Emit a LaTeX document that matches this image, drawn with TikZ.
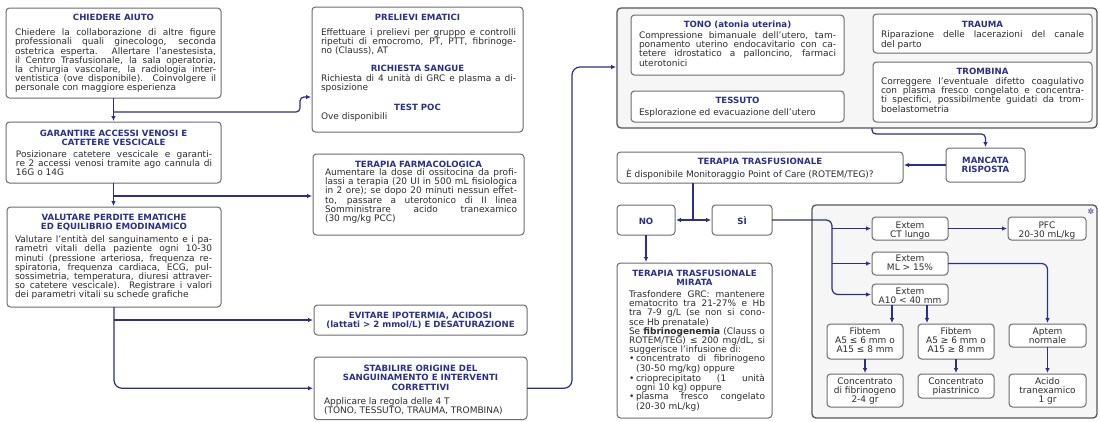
\documentclass[tikz,border=0pt]{standalone}
\usepackage{fontspec}
\setmainfont{DejaVu Sans}
\usetikzlibrary{arrows.meta}

\definecolor{navy}{RGB}{43,47,140}
\definecolor{ink}{RGB}{45,45,45}
\definecolor{frame}{RGB}{108,108,108}
\definecolor{panelfill}{RGB}{246,246,246}

% line helpers: struts keep every row at the same height
\newlength\jw
\newcommand\bst{\vrule height 6.9pt depth 2.3pt width 0pt}
\newcommand\tst{\vrule height 6.9pt depth 2.6pt width 0pt}
\newcommand\jlin[1]{\hbox to\jw{\bst#1}}   % justified line
\newcommand\rlin[1]{\hbox{\bst#1}}         % ragged line
\newcommand\tlin[1]{\hbox{\tst#1}}         % heading line
\newcommand\blt{\makebox[7pt][l]{•}}

% box from its top-left and bottom-right corners (pixel units)
\newcommand\mkbox[6][cardbox]{%
  \node[#1, minimum width=#5pt-#3pt, minimum height=#6pt-#4pt] (#2)
    at ({(#3+#5)/2},{(#4+#6)/2}) {};}

\begin{document}
\begin{tikzpicture}[x=1pt,y=-1pt,
  cardbox/.style={draw=frame, line width=1pt, rounded corners=3.5pt, fill=white,
    inner sep=0pt, outer sep=0pt},
  panelbox/.style={draw=frame!80!black, line width=1.3pt, rounded corners=4pt,
    fill=panelfill, inner sep=0pt, outer sep=0pt},
  body/.style={font=\fontsize{9}{9.2}\selectfont, text=ink, align=left,
    inner sep=0pt, outer sep=0pt, anchor=north west},
  ttl/.style={font=\bfseries\fontsize{8.6}{9.5}\selectfont, text=navy, align=center,
    inner sep=0pt, outer sep=0pt, anchor=north},
  small/.style={font=\fontsize{9}{9.2}\selectfont, text=ink, align=center,
    inner sep=0pt, outer sep=0pt, anchor=north},
  conn/.style={draw=navy, line width=1.2pt},
  arr/.style={conn, -{Latex[length=5pt,width=4.6pt]}, shorten >=1pt}]

\fill[white] (0,0) rectangle (1100,421);
\useasboundingbox (0,0) rectangle (1100,421);

% ---------- grouping panels ----------
\mkbox[panelbox]{c1}{617}{8}{1097}{128}
\mkbox[panelbox]{c2}{812}{205}{1097}{418}
\node[text=navy, font=\fontsize{8}{8}\selectfont, inner sep=0pt] (star) at (1091,212) {✲};

% ---------- boxes ----------
\mkbox{b1}{6}{8}{221}{98}
\mkbox{b2}{6}{122}{221}{183}
\mkbox{b3}{7}{207}{221}{307}
\mkbox{b4}{312}{7}{523}{132}
\mkbox{b5}{313}{154}{524}{235}
\mkbox{b6}{314}{305}{527}{335}
\mkbox{b7}{314}{357}{527}{419.5}
\mkbox{b8}{631}{15}{844}{75}
\mkbox{b9}{631}{91}{844}{122}
\mkbox{b10}{873}{14}{1092}{53}
\mkbox{b11}{873}{62}{1092}{122}
\mkbox{b12}{946}{148}{1025}{182}
\mkbox{b13}{617}{152}{903}{183}
\mkbox{b14}{617}{205}{675}{235}
\mkbox{b15}{712}{205}{772}{235}
\mkbox{b16}{617}{263}{772}{418}
\mkbox{e1}{872}{217}{948}{240}
\mkbox{pf}{1008}{217}{1086}{240}
\mkbox{e2}{872}{252}{948}{275}
\mkbox{e3}{872}{284}{948}{305}
\mkbox{f1}{827}{324}{903}{359}
\mkbox{f2}{918}{324}{994}{359}
\mkbox{ap}{1009}{324}{1086}{347}
\mkbox{cf}{827}{374}{903}{407}
\mkbox{cp}{918}{374}{994}{398}
\mkbox{ac}{1009}{374}{1086}{407}

% ---------- left column ----------
\node[ttl] (b1t) at (113.5,13.2) {\tlin{CHIEDERE AIUTO}};
\node[body] (b1b) at (15,28.8) {\global\jw=201pt
  \jlin{Chiedere la collaborazione di altre figure}\\
  \jlin{professionali quali ginecologo, seconda}\\
  \jlin{ostetrica esperta. Allertare l’anestesista,}\\
  \jlin{il Centro Trasfusionale, la sala operatoria,}\\
  \jlin{la chirurgia vascolare, la radiologia inter-}\\
  \jlin{ventistica (ove disponibile). Coinvolgere il}\\
  \rlin{personale con maggiore esperienza}};

\node[ttl] (b2t) at (113.5,129.2) {\tlin{GARANTIRE ACCESSI VENOSI E}\\\tlin{CATETERE VESCICALE}};
\node[body] (b2b) at (16,150.5) {\global\jw=196pt
  \jlin{Posizionare catetere vescicale e garanti-}\\
  \jlin{re 2 accessi venosi tramite ago cannula di}\\
  \rlin{16G o 14G}};

\node[ttl] (b3t) at (114,213.2) {\tlin{VALUTARE PERDITE EMATICHE}\\\tlin{ED EQUILIBRIO EMODINAMICO}};
\node[body] (b3b) at (15,235.5) {\global\jw=197pt
  \jlin{Valutare l’entità del sanguinamento e i pa-}\\
  \jlin{rametri vitali della paziente ogni 10-30}\\
  \jlin{minuti (pressione arteriosa, frequenza re-}\\
  \jlin{spiratoria, frequenza cardiaca, ECG, pul-}\\
  \jlin{sossimetria, temperatura, diuresi attraver-}\\
  \jlin{so catetere vescicale). Registrare i valori}\\
  \rlin{dei parametri vitali su schede grafiche}};

% ---------- middle column ----------
\node[ttl] (b4t1) at (417.5,13.2) {\tlin{PRELIEVI EMATICI}};
\node[body] (b4b1) at (321,28.5) {\global\jw=195pt
  \jlin{Effettuare i prelievi per gruppo e controlli}\\
  \jlin{ripetuti di emocromo, PT, PTT, fibrinoge-}\\
  \rlin{no (Clauss), AT}};
\node[ttl] (b4t2) at (417.5,64.2) {\tlin{RICHIESTA SANGUE}};
\node[body] (b4b2) at (321,74.5) {\global\jw=195pt
  \jlin{Richiesta di 4 unità di GRC e plasma a di-}\\
  \rlin{sposizione}};
\node[ttl] (b4t3) at (417.5,103.2) {\tlin{TEST POC}};
\node[body] (b4b3) at (321,112.5) {\rlin{Ove disponibili}};

\node[ttl] (b5t) at (418.5,160.2) {\tlin{TERAPIA FARMACOLOGICA}};
\node[body] (b5b) at (325,168.5) {\global\jw=192pt
  \jlin{Aumentare la dose di ossitocina da profi-}\\
  \jlin{lassi a terapia (20 UI in 500 mL fisiologica}\\
  \jlin{in 2 ore); se dopo 20 minuti nessun effet-}\\
  \jlin{to, passare a uterotonico di II linea}\\
  \jlin{Somministrare acido tranexamico}\\
  \rlin{(30 mg/kg PCC)}};

\node[ttl] (b6t) at (420.5,311.2) {\tlin{EVITARE IPOTERMIA, ACIDOSI}\\\tlin{(lattati > 2 mmol/L) E DESATURAZIONE}};

\node[ttl] (b7t) at (420.5,364.2) {\tlin{STABILIRE ORIGINE DEL}\\\tlin{SANGUINAMENTO E INTERVENTI}\\\tlin{CORRETTIVI}};
\node[body] (b7b) at (324,397.5) {\rlin{Applicare la regola delle 4 T}\\
  \rlin{(TONO, TESSUTO, TRAUMA, TROMBINA)}};

% ---------- the four T ----------
\node[ttl] (b8t) at (737.5,20.2) {\tlin{TONO (atonia uterina)}};
\node[body] (b8b) at (639,31.5) {\global\jw=197pt
  \jlin{Compressione bimanuale dell’utero, tam-}\\
  \jlin{ponamento uterino endocavitario con ca-}\\
  \jlin{tetere idrostatico a palloncino, farmaci}\\
  \rlin{uterotonici}};
\node[ttl] (b9t) at (737.5,96.2) {\tlin{TESSUTO}};
\node[body] (b9b) at (639,108.5) {\rlin{Esplorazione ed evacuazione dell’utero}};

\node[ttl] (b10t) at (982.5,20.2) {\tlin{TRAUMA}};
\node[body] (b10b) at (881,31) {\global\jw=203pt
  \jlin{Riparazione delle lacerazioni del canale}\\
  \rlin{del parto}};
\node[ttl] (b11t) at (982.5,67.2) {\tlin{TROMBINA}};
\node[body] (b11b) at (881,77.5) {\global\jw=203pt
  \jlin{Correggere l’eventuale difetto coagulativo}\\
  \jlin{con plasma fresco congelato e concentra-}\\
  \jlin{ti specifici, possibilmente guidati da trom-}\\
  \rlin{boelastometria}};

% ---------- transfusion ----------
\node[ttl] (b12t) at (985.5,156.2) {\tlin{MANCATA}\\\tlin{RISPOSTA}};
\node[ttl] (b13t) at (760,157.2) {\tlin{TERAPIA TRASFUSIONALE}};
\node[body, anchor=base west] (b13b) at (626,177.4) {È disponibile Monitoraggio Point of Care (ROTEM/TEG)?};
\node[ttl, anchor=base] (b14t) at (646,224.1) {NO};
\node[ttl, anchor=base] (b15t) at (742,224.1) {SÌ};

\node[ttl] (b16t) at (694.5,269.2) {\tlin{TERAPIA TRASFUSIONALE}\\\tlin{MIRATA}};
\node[body] (b16b) at (629,290.5) {\global\jw=136pt
  \jlin{Trasfondere GRC: mantenere}\\
  \jlin{ematocrito tra 21-27\% e Hb}\\
  \jlin{tra 7-9 g/L (se non si cono-}\\
  \rlin{sce Hb prenatale)}\\
  \jlin{Se \textbf{fibrinogenemia} (Clauss o}\\
  \jlin{ROTEM/TEG) ≤ 200 mg/dL, si}\\
  \rlin{suggerisce l’infusione di:}\\
  \jlin{\blt concentrato di fibrinogeno}\\
  \rlin{\hspace*{7pt}(30-50 mg/kg) oppure}\\
  \jlin{\blt crioprecipitato (1 unità}\\
  \rlin{\hspace*{7pt}ogni 10 kg) oppure}\\
  \jlin{\blt plasma fresco congelato}\\
  \rlin{\hspace*{7pt}(20-30 mL/kg)}};

% ---------- point-of-care panel ----------
\node[small] (e1t) at (910,221.5) {\rlin{Extem}\\\rlin{CT lungo}};
\node[small] (pft) at (1047,221.5) {\rlin{PFC}\\\rlin{20-30 mL/kg}};
\node[small] (e2t) at (910,254.5) {\rlin{Extem}\\\rlin{ML > 15\%}};
\node[small] (e3t) at (910,287.5) {\rlin{Extem}\\\rlin{A10 < 40 mm}};
\node[small] (f1t) at (865,327.5) {\rlin{Fibtem}\\\rlin{A5 ≤ 6 mm o}\\\rlin{A15 ≤ 8 mm}};
\node[small] (f2t) at (956,327.5) {\rlin{Fibtem}\\\rlin{A5 ≥ 6 mm o}\\\rlin{A15 ≥ 8 mm}};
\node[small] (apt) at (1047.5,327.5) {\rlin{Aptem}\\\rlin{normale}};
\node[small] (cft) at (865,377.5) {\rlin{Concentrato}\\\rlin{di fibrinogeno}\\\rlin{2-4 gr}};
\node[small] (cpt) at (956,377.5) {\rlin{Concentrato}\\\rlin{piastrinico}};
\node[small] (act) at (1047.5,377.5) {\rlin{Acido}\\\rlin{tranexamico}\\\rlin{1 gr}};

% ---------- connectors ----------
% left column
\draw[arr] (b1.south) -- (b1.south |- b2.north);
\coordinate (j1) at (113.5,112);
\draw[arr, rounded corners=4pt] (j1) -| (300,97) -- (b4.west |- 300,97);
\draw[arr] (b2.south) -- (b2.south |- b3.north);
\coordinate (j2) at (113.5,196);
\draw[arr] (j2) -- (j2 -| b5.west);
\coordinate (j3) at (b3.south |- b6.west);
\draw[arr] (j3) -- (b6.west);
\draw[arr, rounded corners=8pt] (b3.south) |- (b7.west);
% towards the four T
\draw[arr, rounded corners=8pt] (b7.east) -| (572,67) -- (c1.west |- 572,67);
\coordinate (k1) at (872,128);
\draw[arr, rounded corners=4pt] (k1) -- (872,134) -- (985.5,134) -- (b12.north);
\draw[arr] (b12.west) -- (b12.west -| b13.east);
% point-of-care question
\coordinate (sp) at (693,220);
\draw[conn] (b13.south -| sp) -- (sp);
\draw[arr] (sp) -- (sp -| b14.east);
\draw[arr] (sp) -- (sp -| b15.west);
\draw[arr] (b14.south) -- (b14.south |- b16.north);
% point-of-care panel
\draw[arr, rounded corners=6pt] (b15.east) -- (832,220) -- (832,294.5) -- (e3.west);
\coordinate (q1) at (832,228.5);
\coordinate (q2) at (832,263.5);
\draw[arr] (q1) -- (q1 -| e1.west);
\draw[arr] (q2) -- (q2 -| e2.west);
\draw[arr] (e1.east) -- (pf.west);
\draw[arr, rounded corners=6pt] (e2.east) -| (ap.north);
\coordinate (r1) at (892,305);
\coordinate (r2) at (927,305);
\draw[arr] (r1) -- (r1 |- f1.north);
\draw[arr] (r2) -- (r2 |- f2.north);
\draw[arr] (f1.south) -- (cf.north);
\draw[arr] (f2.south) -- (cp.north);
\draw[arr] (ap.south) -- (ac.north);
\end{tikzpicture}
\end{document}
